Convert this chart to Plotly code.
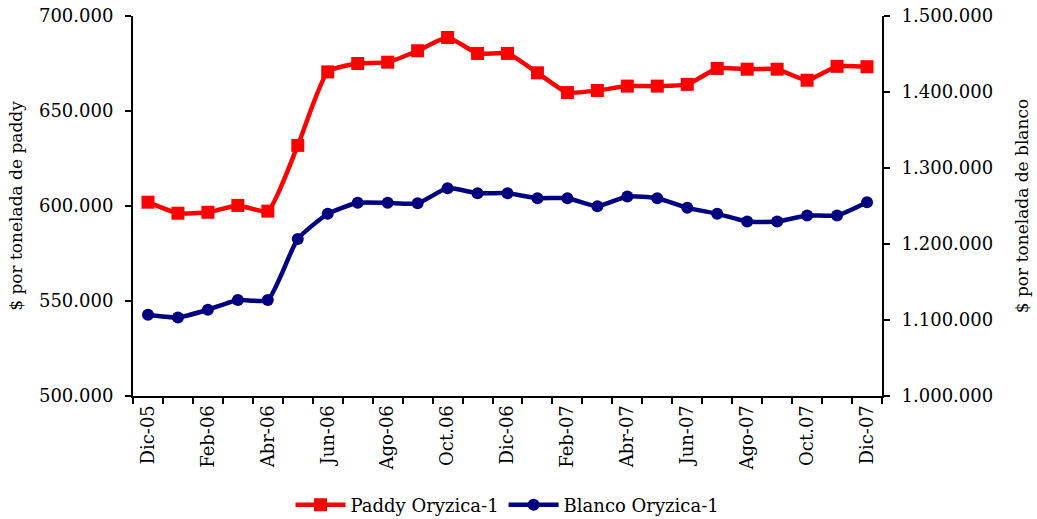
import plotly.graph_objects as go

months = ["Dic-05", "Ene-06", "Feb-06", "Mar-06", "Abr-06", "May-06", "Jun-06",
          "Jul-06", "Ago-06", "Sep-06", "Oct.06", "Nov-06", "Dic-06", "Ene-07",
          "Feb-07", "Mar-07", "Abr-07", "May-07", "Jun-07", "Jul-07", "Ago-07",
          "Sep-07", "Oct.07", "Nov-07", "Dic-07"]

paddy = [602000, 596200, 596700, 600300, 597300, 631900, 670600, 675000, 675700,
         681700, 688700, 680300, 680300, 670100, 659700, 660800, 663100, 663100,
         664000, 672400, 672000, 672000, 666200, 673500, 673300]

blanco = [1106900, 1103300, 1113500, 1126300, 1126300, 1206700, 1239700, 1254200,
          1254200, 1253500, 1273500, 1266900, 1266900, 1260300, 1260300, 1249700,
          1262500, 1260300, 1247600, 1239700, 1229600, 1229600, 1237500, 1237500,
          1255000]

x = list(range(len(months)))
font = "DejaVu Serif"

fig = go.Figure()
fig.add_trace(go.Scatter(x=x, y=paddy, name="Paddy Oryzica-1", mode="lines+markers",
                         line=dict(color="#ff0000", width=4.5, shape="spline", smoothing=0.5),
                         marker=dict(symbol="square", size=13, color="#ff0000")))
fig.add_trace(go.Scatter(x=x, y=blanco, name="Blanco Oryzica-1", mode="lines+markers",
                         yaxis="y2",
                         line=dict(color="#000080", width=4.5, shape="spline", smoothing=0.5),
                         marker=dict(symbol="circle", size=12, color="#000080")))

fig.update_layout(
    width=1037, height=519,
    margin=dict(l=133, r=155, t=16, b=123, autoexpand=False),
    paper_bgcolor="white", plot_bgcolor="white",
    separators=",.",
    font=dict(family=font, size=18, color="black"),
    xaxis=dict(range=[-0.5, 24.5], tickvals=x[::2], ticktext=months[::2],
               tickangle=-90, ticks="", showline=True, linecolor="black", linewidth=2,
               showgrid=False, zeroline=False, automargin=False,
               minor=dict(tick0=-0.5, dtick=1, ticks="outside", ticklen=6,
                          tickcolor="black", tickwidth=2, showgrid=False)),
    yaxis=dict(range=[500000, 700000], dtick=50000, tickformat=",d",
               ticks="outside", ticklen=6, tickcolor="black", tickwidth=2,
               ticklabelstandoff=8,
               showline=True, linecolor="black", linewidth=2,
               showgrid=False, zeroline=False, automargin=False,
               title=dict(text="$ por tonelada de paddy", font=dict(size=17), standoff=12)),
    yaxis2=dict(range=[1000000, 1500000], dtick=100000, tickformat=",d",
                overlaying="y", side="right",
                ticks="outside", ticklen=6, tickcolor="black", tickwidth=2,
                ticklabelstandoff=8,
                showline=True, linecolor="black", linewidth=2,
                showgrid=False, zeroline=False, automargin=False,
                title=dict(text="$ por tonelada de blanco", font=dict(size=17), standoff=24)),
    legend=dict(orientation="h", x=0.5, xanchor="center", y=-0.287, yanchor="middle",
                font=dict(size=18), itemwidth=50),
    showlegend=True,
)

# drop the default body margin so the figure sits at the window corner
fig.write_html("out.html", config={"displayModeBar": False},
               post_script="document.body.style.margin='0';")
